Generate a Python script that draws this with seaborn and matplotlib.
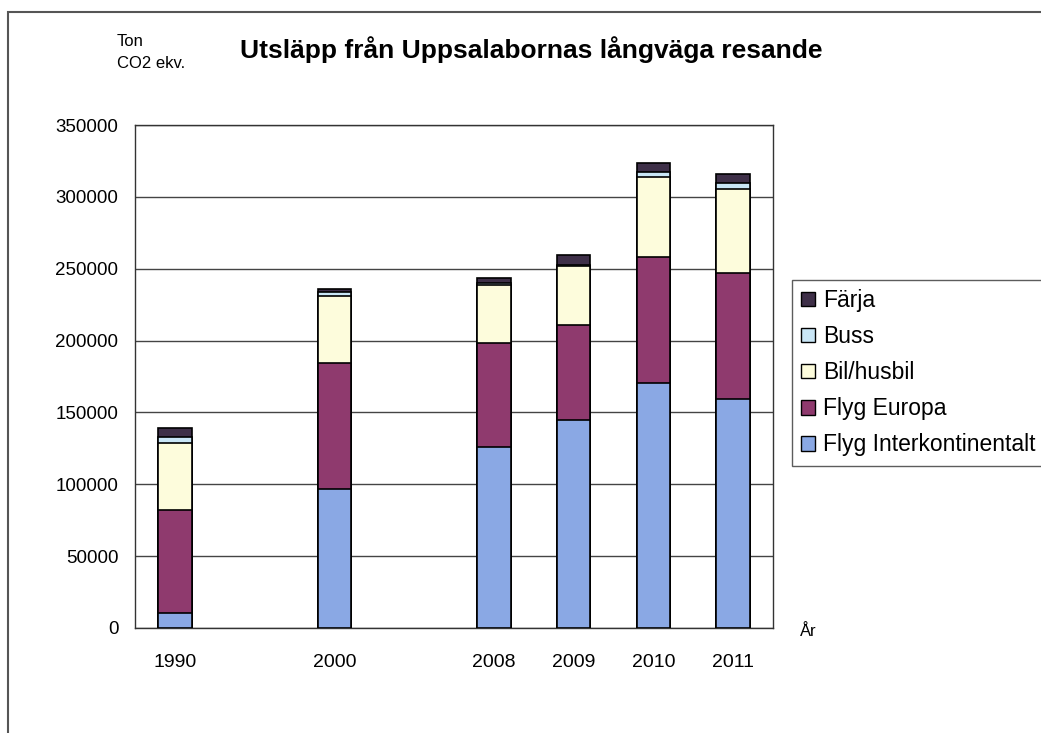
import seaborn as sns
import matplotlib.pyplot as plt
import pandas as pd
from matplotlib.patches import Patch, Rectangle

# values (ton CO2 ekv.)
years = ['1990', '2000', '2008', '2009', '2010', '2011']
slots = ['1990', ' ', '2000', '  ', '2008', '2009', '2010', '2011']
series = ['Flyg Interkontinentalt', 'Flyg Europa', 'Bil/husbil', 'Buss', 'Färja']
flyg_interkont = [10400, 96700, 126000, 144700, 170500, 159300]
flyg_europa = [71700, 87500, 72300, 66100, 87600, 87700]
bil_husbil = [46400, 47000, 40400, 41100, 55900, 58200]
buss = [4600, 2400, 1600, 600, 3100, 4200]
farja = [5900, 2300, 3000, 7000, 6700, 6500]
colors = ['#8aa8e4', '#8f3a6e', '#fdfcdc', '#c9e6f6', '#3e2f48']

df = pd.DataFrame({'År': years,
                   'Flyg Interkontinentalt': flyg_interkont,
                   'Flyg Europa': flyg_europa,
                   'Bil/husbil': bil_husbil,
                   'Buss': buss,
                   'Färja': farja})
# cumulative tops, so the stack can be drawn tallest first
cum = df[series].cumsum(axis=1)
cum['År'] = df['År']

sns.set_style('white')
plt.rcParams['font.family'] = ['Liberation Sans', 'DejaVu Sans']
plt.rcParams['text.color'] = 'black'
plt.rcParams['xtick.color'] = 'black'
plt.rcParams['ytick.color'] = 'black'

fig = plt.figure(figsize=(10.41, 7.33), dpi=100)
ax = fig.add_axes([135 / 1041, 1 - 628 / 733, 638 / 1041, 503 / 733])

for name, col in reversed(list(zip(series, colors))):
    sns.barplot(data=cum, x='År', y=name, order=slots, color=col, width=0.42,
                edgecolor='black', linewidth=1.2, saturation=1, ax=ax, zorder=3)

ax.set_ylim(0, 350000)
ax.set_yticks(range(0, 350001, 50000))
ax.set_yticklabels([str(v) for v in range(0, 350001, 50000)], fontsize=13.5)
ax.set_xlim(-0.5, len(slots) - 0.5)
ax.set_xticks(range(len(slots)))
ax.set_xticklabels([s.strip() for s in slots], fontsize=14)
ax.set_xticks([i - 0.5 for i in range(len(slots) + 1)], minor=True)
ax.tick_params(axis='x', which='major', length=0, pad=19)
ax.tick_params(axis='x', which='minor', length=6, width=1, color='#333333', direction='out')
ax.tick_params(axis='y', length=5, width=1, color='#333333', direction='out', pad=7)
ax.set_xlabel('')
ax.set_ylabel('')
ax.yaxis.grid(True, color='#444444', linewidth=1)
ax.set_axisbelow(True)
for sp in ax.spines.values():
    sp.set_color('#333333')
    sp.set_linewidth(1)

fig.text(531 / 1041, 1 - 50 / 733, 'Utsläpp från Uppsalabornas långväga resande',
         ha='center', va='center', fontsize=19, fontweight='bold')
narrow = ['Liberation Sans Narrow', 'Liberation Sans']
fig.text(117 / 1041, 1 - 41 / 733, 'Ton', ha='left', va='center', fontsize=12, family=narrow)
fig.text(117 / 1041, 1 - 64 / 733, 'CO2 ekv.', ha='left', va='center', fontsize=12, family=narrow)
fig.text(800 / 1041, 1 - 631 / 733, 'År', ha='left', va='center', fontsize=12)

handles = [Patch(facecolor=c, edgecolor='black', linewidth=1, label=n)
           for n, c in reversed(list(zip(series, colors)))]
leg = fig.legend(handles=handles, loc='upper left',
                 bbox_to_anchor=(792 / 1041, 1 - 280 / 733), fontsize=16.5,
                 frameon=True, fancybox=False, edgecolor='#333333',
                 handlelength=0.6, handleheight=0.6, handletextpad=0.35,
                 labelspacing=0.57, borderpad=0.4, borderaxespad=0)
leg.get_frame().set_linewidth(1)

# outer frame of the original chart object
fig.add_artist(Rectangle((8 / 1041, -0.1), 1.2, 1.1 - 12 / 733, transform=fig.transFigure,
                         fill=False, edgecolor='#555555', linewidth=1.5))

fig.savefig('out.png', dpi=100)
